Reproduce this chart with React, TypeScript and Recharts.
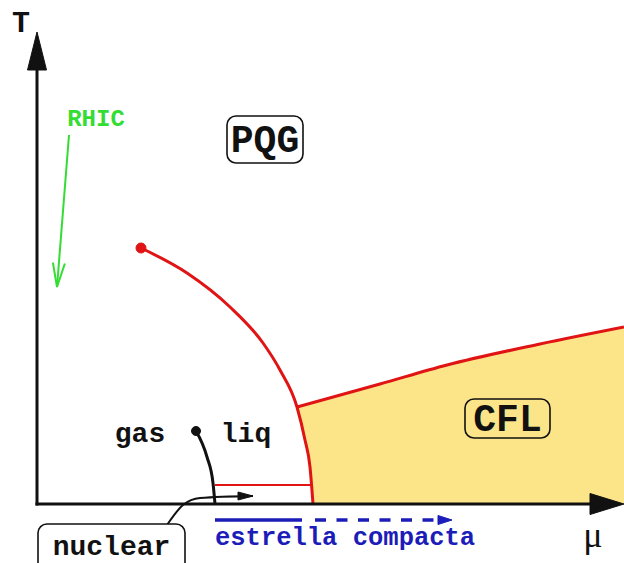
import {
  ComposedChart,
  XAxis,
  YAxis,
  Line,
  Area,
  ReferenceDot,
  ReferenceLine,
} from 'recharts';

// Schematic QCD phase diagram, mu (x) vs T (y), origin where the axes cross.
const muAxis = [{ x: -1.5, y: 0 }, { x: 560, y: 0 }];
const tAxis = [{ x: 0, y: -1.5 }, { x: 0, y: 440 }];

const criticalPoint = [{ mu: 104, T: 256 }];
const chiralLine = [
  { mu: 104, T: 256 },
  { mu: 150, T: 231 },
  { mu: 193, T: 197 },
  { mu: 226, T: 161 },
  { mu: 243, T: 134 },
  { mu: 260, T: 97 },
  { mu: 268, T: 64 },
  { mu: 273, T: 37 },
  { mu: 276, T: 0 },
];
const cflLine = [
  { mu: 260, T: 97 },
  { mu: 343, T: 120 },
  { mu: 410, T: 139 },
  { mu: 503, T: 160 },
  { mu: 587, T: 177 },
];
const cflRegion = [
  { mu: 276, T: 0 },
  { mu: 275, T: 20 },
  { mu: 273, T: 37 },
  { mu: 271, T: 50 },
  { mu: 268, T: 64 },
  { mu: 264, T: 81 },
  { mu: 260, T: 97 },
  { mu: 343, T: 120 },
  { mu: 410, T: 139 },
  { mu: 503, T: 160 },
  { mu: 587, T: 177 },
];

const nuclearPoint = [{ mu: 159, T: 73 }];
const nuclearLine = [
  { mu: 159, T: 73 },
  { mu: 170, T: 47 },
  { mu: 176, T: 21 },
  { mu: 178, T: 0 },
];
const liquidLine = [{ mu: 178, T: 19 }, { mu: 276, T: 19 }];

const nuclearArrow = [
  { mu: 130, T: -21 },
  { mu: 146, T: -1 },
  { mu: 163, T: 6 },
  { mu: 216, T: 8 },
];
const rhicPath = [{ mu: 32, T: 369 }, { mu: 20, T: 217 }];
const starSolid = [{ mu: 178, T: -16 }, { mu: 265, T: -16 }];
const starDashed = [{ mu: 278, T: -16 }, { mu: 405, T: -16 }];

const labels = {
  T: 'T',
  mu: 'μ',
  rhic: 'RHIC',
  pqg: 'PQG',
  cfl: 'CFL',
  gas: 'gas',
  liq: 'liq',
  nuclear: 'nuclear',
  star: 'estrella compacta',
};

const RED = '#e01414';
const YELLOW = '#fce589';
const GREEN = '#33dd33';
const BLUE = '#1c1cb8';
const MONO = "'Liberation Mono', 'DejaVu Sans Mono', monospace";

const arrowHead =
  (angle: number, len: number, halfW: number, color: string, open = false) =>
  (props: any) => {
    const { cx, cy } = props;
    const pts = `${-len},${-halfW} 0,0 ${-len},${halfW}`;
    return (
      <g transform={`translate(${cx},${cy}) rotate(${angle})`}>
        {open ? (
          <polyline points={pts} fill="none" stroke={color} strokeWidth={2} />
        ) : (
          <polygon points={pts} fill={color} stroke={color} strokeWidth={1} />
        )}
      </g>
    );
  };

const textMark =
  (text: string, opts: { size: number; color?: string; anchor?: string; family?: string; weight?: string }) =>
  (props: any) => {
    const { cx, cy } = props;
    return (
      <text
        x={cx}
        y={cy}
        textAnchor={opts.anchor ?? 'middle'}
        fontFamily={opts.family ?? MONO}
        fontWeight={opts.weight ?? 'bold'}
        fontSize={opts.size}
        fill={opts.color ?? '#111'}
      >
        {text}
      </text>
    );
  };

const boxMark =
  (text: string, w: number, h: number, size: number, dy: number, fill: string) =>
  (props: any) => {
    const { cx, cy } = props;
    return (
      <g>
        <rect
          x={cx - w / 2}
          y={cy - h / 2}
          width={w}
          height={h}
          rx={9}
          fill={fill}
          stroke="#111"
          strokeWidth={1.6}
        />
        <text
          x={cx}
          y={cy + dy}
          textAnchor="middle"
          fontFamily={MONO}
          fontWeight="bold"
          fontSize={size}
          fill="#111"
        >
          {text}
        </text>
      </g>
    );
  };

const rhicAngle = (Math.atan2(rhicPath[0].T - rhicPath[1].T, rhicPath[1].mu - rhicPath[0].mu) * 180) / Math.PI;

export default function App() {
  return (
    <div style={{ position: 'absolute', left: 0, top: 0, background: '#fff' }}>
      <ComposedChart width={624} height={563} margin={{ top: 0, right: 0, bottom: 0, left: 0 }}>
        <XAxis type="number" dataKey="mu" domain={[-37, 587]} allowDataOverflow hide />
        <YAxis type="number" dataKey="T" domain={[-59, 504]} allowDataOverflow hide />

        <Area
          data={cflRegion}
          dataKey="T"
          type="linear"
          baseValue={0}
          fill={YELLOW}
          fillOpacity={1}
          stroke="none"
          activeDot={false}
          isAnimationActive={false}
        />

        <Line data={liquidLine} dataKey="T" type="linear" stroke={RED} strokeWidth={2.2} dot={false} activeDot={false} isAnimationActive={false} />
        <Line data={chiralLine} dataKey="T" type="monotone" stroke={RED} strokeWidth={3} dot={false} activeDot={false} isAnimationActive={false} />
        <Line data={cflLine} dataKey="T" type="monotone" stroke={RED} strokeWidth={3} dot={false} activeDot={false} isAnimationActive={false} />
        <Line data={criticalPoint} dataKey="T" stroke={RED} dot={{ r: 5, fill: RED, stroke: RED }} activeDot={false} isAnimationActive={false} />

        <Line data={nuclearLine} dataKey="T" type="monotone" stroke="#111" strokeWidth={3} dot={false} activeDot={false} isAnimationActive={false} />
        <Line data={nuclearPoint} dataKey="T" stroke="#111" dot={{ r: 4.5, fill: '#111', stroke: '#111' }} activeDot={false} isAnimationActive={false} />

        <ReferenceLine segment={muAxis} stroke="#111" strokeWidth={3} ifOverflow="visible" />
        <ReferenceLine segment={tAxis} stroke="#111" strokeWidth={3} ifOverflow="visible" />
        <ReferenceDot x={0} y={472} ifOverflow="visible" shape={arrowHead(-90, 38, 9.5, '#111')} />
        <ReferenceDot x={587} y={0} ifOverflow="visible" shape={arrowHead(0, 34, 10.5, '#111')} />

        <Line data={nuclearArrow} dataKey="T" type="monotone" stroke="#111" strokeWidth={2} dot={false} activeDot={false} isAnimationActive={false} />
        <ReferenceDot x={216} y={8} ifOverflow="visible" shape={arrowHead(0, 15, 4, '#111')} />

        <Line data={rhicPath} dataKey="T" type="linear" stroke={GREEN} strokeWidth={2} dot={false} activeDot={false} isAnimationActive={false} />
        <ReferenceDot x={20} y={217} ifOverflow="visible" shape={arrowHead(rhicAngle, 24, 6, GREEN, true)} />

        <Line data={starSolid} dataKey="T" type="linear" stroke={BLUE} strokeWidth={3.5} dot={false} activeDot={false} isAnimationActive={false} />
        <Line
          data={starDashed}
          dataKey="T"
          type="linear"
          stroke={BLUE}
          strokeWidth={3.5}
          strokeDasharray="11 10.5"
          dot={false}
          activeDot={false}
          isAnimationActive={false}
        />
        <ReferenceDot x={415} y={-16} ifOverflow="visible" shape={arrowHead(0, 14, 4.5, BLUE)} />

        <ReferenceDot x={-16} y={472} ifOverflow="visible" shape={textMark(labels.T, { size: 30 })} />
        <ReferenceDot x={556} y={-43} ifOverflow="visible" shape={textMark(labels.mu, { size: 36, family: "'Liberation Serif', 'DejaVu Serif', serif", weight: 'normal' })} />
        <ReferenceDot x={59} y={378} ifOverflow="visible" shape={textMark(labels.rhic, { size: 24, color: GREEN })} />
        <ReferenceDot x={103} y={62} ifOverflow="visible" shape={textMark(labels.gas, { size: 28 })} />
        <ReferenceDot x={209} y={62} ifOverflow="visible" shape={textMark(labels.liq, { size: 28 })} />
        <ReferenceDot x={178} y={-41} ifOverflow="visible" shape={textMark(labels.star, { size: 25.5, color: BLUE, anchor: 'start' })} />

        <ReferenceDot x={228} y={364.5} ifOverflow="visible" shape={boxMark(labels.pqg, 76, 47, 38, 12, '#fff')} />
        <ReferenceDot x={470.5} y={85.5} ifOverflow="visible" shape={boxMark(labels.cfl, 85, 39, 38, 12, YELLOW)} />
        <ReferenceDot x={74.5} y={-45} ifOverflow="visible" shape={boxMark(labels.nuclear, 147, 50, 28, 6, '#fff')} />
      </ComposedChart>
    </div>
  );
}
